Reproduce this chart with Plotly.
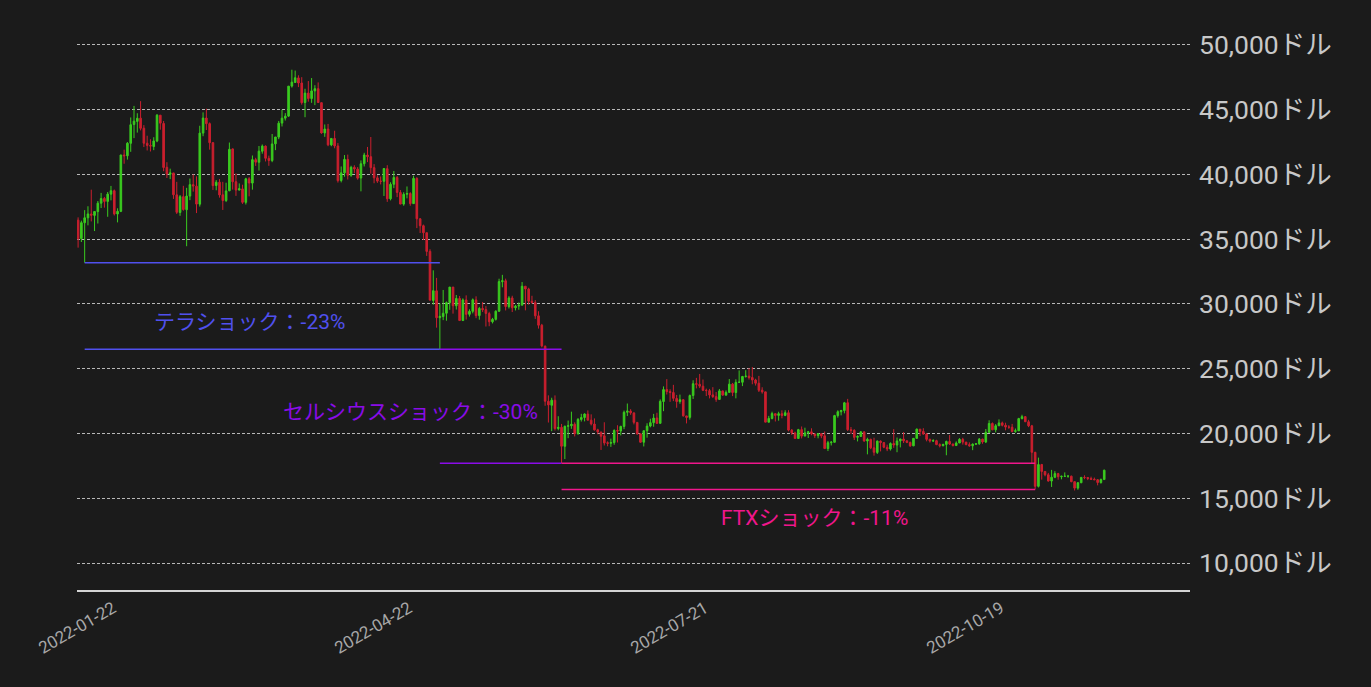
import pandas as pd
import plotly.graph_objects as go

# ---- data: BTC daily candles, 2022-01-22 .. 2022-11-30 ----
start_date = "2022-01-22"
end_date = "2022-11-30"

opens = [
    # Jan 22-31
    36471, 35048, 36276, 36654, 36950, 36841, 37128, 37780, 38151, 37920,
    # Feb
    38481, 38744, 36945, 37150, 41501, 41441, 42406, 43855, 44097, 44348,
    43571, 42412, 42236, 42158, 42586, 44578, 43937, 40553, 40022, 40119,
    38424, 37068, 38285, 37279, 38328, 39213, 39098, 37707,
    # Mar
    43194, 44357, 43925, 42458, 39148, 39404, 38429, 37988, 38743, 41974,
    39439, 38794, 38885, 37846, 39665, 39335, 41141, 40944, 41795, 42191,
    41246, 41074, 42364, 42886, 43964, 44349, 44505, 46822, 47100, 47456, 47063,
    # Apr
    45554, 46285, 45859, 46454, 46624, 45544, 43207, 43505, 42282, 42781,
    42201, 39533, 40123, 41160, 39939, 40552, 40417, 39722, 40828, 41501,
    41372, 40525, 39738, 39478, 39472, 40448, 38120, 39242, 39768, 38606,
    # May
    37713, 38473, 38529, 37748, 39695, 36573, 36042, 35502, 34060, 30273,
    31017, 28937, 29030, 29285, 30099, 31305, 29863, 30424, 28720, 30311,
    29199, 29433, 30310, 29102, 29654, 29564, 29261, 28623, 28812, 29442, 31723,
    # Jun
    31792, 29794, 30467, 29706, 29835, 29910, 31372, 31151, 30216, 30110,
    29084, 28361, 26737, 22486, 22177, 22568, 20387, 20473, 19011, 20553,
    20595, 20717, 19990, 21084, 21233, 21497, 21028, 20731, 20282, 20108,
    # Jul
    19820, 19279, 19245, 19298, 20225, 20194, 20547, 21638, 21729, 21592,
    20857, 19971, 19326, 20212, 20573, 20835, 21196, 20782, 22468, 23393,
    23235, 23163, 22706, 22466, 22607, 21358, 21244, 22934, 23845, 23796, 23652,
    # Aug
    23337, 23309, 22981, 22846, 22630, 23289, 22962, 23174, 23811, 23162,
    23949, 23957, 24402, 24430, 24318, 24127, 23881, 23342, 23213, 20872,
    21160, 21531, 21398, 21526, 21395, 21600, 20260, 20041, 19615, 20297, 19798,
    # Sep
    20050, 20126, 19969, 19833, 19989, 19818, 18837, 19289, 19322, 21376,
    21679, 21769, 22371, 20295, 20242, 19704, 19770, 20127, 19419, 19545,
    18891, 18534, 19412, 19296, 18936, 18803, 19221, 19105, 19427, 19573,
    # Oct
    19431, 19312, 19044, 19623, 20335, 20162, 19957, 19546, 19417, 19446,
    19140, 19053, 19156, 19383, 19186, 19068, 19268, 19549, 19335, 19138,
    19053, 19172, 19207, 19567, 19344, 20092, 20773, 20288, 20595, 20818, 20633,
    # Nov
    20494, 20482, 20162, 20208, 21145, 21301, 20906, 20590, 18543, 15922,
    17602, 17069, 16813, 16331, 16618, 16901, 16661, 16692, 16699, 16700,
    16280, 15782, 16196, 16611, 16603, 16521, 16463, 16428, 16213, 16442,
]

highs = [
    36688, 36433, 37247, 37545, 38825, 37148, 37952, 38576, 38266, 38647,
    39116, 38834, 37388, 41527, 41914, 42500, 44401, 45293, 44727, 45661,
    43810, 42992, 42721, 42876, 44667, 44578, 44132, 40946, 40447, 40119,
    39430, 38413, 39123, 38968, 39683, 40005, 39854, 43761,
    44793, 45077, 44021, 42479, 39566, 39640, 39430, 39363, 42465, 42005,
    40081, 39308, 39209, 39742, 39794, 41465, 41287, 42195, 42316, 42241,
    41454, 43124, 42893, 44131, 44999, 44735, 46827, 48087, 48022, 47655, 47512,
    46617, 47213, 47444, 46891, 47106, 45544, 43860, 43903, 42786, 43376,
    42424, 40617, 41499, 41532, 40671, 40709, 40570, 41082, 41672, 42126,
    42893, 40799, 39935, 39845, 40491, 40713, 39397, 40269, 39887, 38795,
    38627, 39074, 38629, 39902, 39789, 36624, 36129, 35502, 34222, 32596,
    32013, 30033, 31083, 30189, 31308, 31305, 30694, 30618, 30431, 30664,
    29588, 30425, 30590, 29774, 30157, 29834, 29397, 28926, 29509, 31949, 32249,
    31957, 30604, 30634, 29930, 30117, 31693, 31373, 31253, 30633, 30300,
    29438, 28462, 26795, 22944, 22761, 22940, 21333, 20739, 20611, 20998,
    21684, 20862, 21192, 21520, 21558, 21783, 21479, 21164, 20364, 20141,
    20865, 19393, 19602, 20324, 20635, 20595, 21771, 22314, 21877, 21592,
    20857, 20000, 20223, 20789, 21139, 21514, 21600, 22633, 23635, 24196,
    23412, 23756, 22977, 23001, 22651, 21361, 23006, 24108, 24294, 24598, 24167,
    23464, 23442, 23578, 23199, 23430, 23302, 23326, 24203, 23900, 24183,
    24870, 24445, 24888, 25047, 25135, 24226, 24447, 23569, 23213, 21359,
    21683, 21531, 21680, 21790, 21795, 21800, 20341, 20138, 20357, 20542, 20447,
    20198, 20401, 19970, 20004, 20016, 20156, 19427, 19417, 21439, 21791,
    21827, 22439, 22673, 20502, 20330, 19861, 20163, 20130, 19674, 19603,
    19674, 19456, 19464, 19310, 19135, 19315, 20338, 19688, 19589, 20109,
    19472, 19370, 19653, 20380, 20343, 20408, 20041, 19601, 19558, 19515,
    19241, 19207, 19453, 19889, 19212, 19393, 19635, 19666, 19348, 19315,
    19237, 19248, 19646, 19589, 20348, 21020, 20854, 20724, 21086, 20917, 20834,
    20647, 20742, 20382, 21209, 21446, 21346, 21053, 20664, 18590, 18137,
    17651, 17069, 16954, 17190, 17091, 16960, 16746, 16995, 16797, 16749,
    16290, 16253, 16638, 16771, 16603, 16667, 16595, 16484, 16522, 17200,
]

lows = [
    34349, 34785, 33184, 36069, 36375, 35630, 36211, 37406, 37437, 36733,
    38000, 36832, 36300, 37093, 40826, 41150, 41748, 42807, 43232, 43402,
    42114, 41852, 41774, 41876, 42491, 43456, 40249, 39729, 39640, 38112,
    36950, 36809, 37201, 34459, 38015, 38676, 37018, 37520,
    42952, 43432, 41914, 38805, 38777, 38211, 37260, 37867, 38706, 38832,
    38347, 38772, 37728, 37681, 38310, 38828, 40662, 40302, 41602, 41004,
    40668, 40948, 41877, 42726, 43706, 44166, 44437, 46707, 47100, 46746, 45390,
    44421, 45620, 45530, 45353, 45544, 43147, 42906, 42183, 42183, 42021,
    39373, 39388, 39823, 39609, 39817, 40099, 39597, 38696, 40618, 40953,
    40063, 39319, 39352, 39233, 38339, 37884, 37997, 38941, 38248, 37697,
    37585, 38156, 37585, 37732, 35856, 35482, 34940, 33713, 30296, 29944,
    28170, 26500, 28751, 28706, 29550, 29251, 29570, 28721, 28708, 28793,
    29027, 29275, 28901, 28786, 29384, 28261, 28282, 28498, 28721, 29384, 31286,
    29501, 29651, 29375, 29500, 29555, 29895, 29508, 29944, 30020, 28850,
    28099, 26651, 22141, 20846, 20178, 20232, 20246, 17708, 18025, 19637,
    20360, 19771, 19898, 20921, 20935, 21016, 20620, 20228, 19937, 18729,
    19073, 19012, 18966, 19127, 19305, 19852, 20333, 21347, 21441, 20703,
    19903, 19285, 18999, 19676, 20477, 20522, 20778, 20782, 21722, 23009,
    22446, 22500, 21987, 22297, 21307, 20778, 21070, 22664, 23481, 23505, 23273,
    22890, 22709, 22747, 22445, 22605, 22934, 22908, 23165, 22884, 22713,
    23938, 23659, 24312, 24165, 23799, 23702, 23201, 23078, 20868, 20856,
    21088, 20926, 20988, 21169, 21339, 20165, 19890, 19600, 19600, 19617, 19798,
    19653, 19861, 19653, 19625, 19637, 18800, 18644, 19075, 19311, 21221,
    21397, 21555, 20196, 19961, 19497, 19387, 19757, 19364, 18390, 18791,
    18290, 18415, 18617, 18861, 18638, 18682, 18891, 18553, 18925, 19265,
    19254, 18970, 19025, 19603, 19802, 19900, 19395, 19299, 19349, 19102,
    18925, 19015, 18319, 19115, 18999, 19068, 19262, 19144, 19096, 18971,
    18712, 19132, 19124, 19206, 19261, 20076, 20255, 20086, 20580, 20547, 20245,
    20359, 20087, 20060, 20188, 21097, 20887, 20489, 17659, 15682, 15833,
    16439, 16692, 16285, 15872, 16549, 16430, 16460, 16645, 16582, 16235,
    15599, 15656, 16169, 16470, 16400, 16461, 16427, 15995, 16123, 16436,
]

closes = [
    35030, 36276, 36654, 36954, 36852, 37138, 37784, 38138, 37917, 38483,
    38743, 36952, 37154, 41501, 41441, 42412, 43841, 44118, 44338, 43565,
    42408, 42244, 42197, 42586, 44575, 43961, 40538, 40031, 40122, 38431,
    37075, 38286, 37296, 38332, 39214, 39105, 37710, 43193,
    44354, 43925, 42452, 39137, 39400, 38420, 37989, 38730, 41941, 39439,
    38794, 38904, 37849, 39666, 39338, 41143, 40951, 41801, 42190, 41247,
    41077, 42358, 42892, 43960, 44348, 44500, 46820, 47128, 47465, 47062, 45538,
    46281, 45868, 46453, 46622, 45555, 43206, 43503, 42287, 42782, 42207,
    39521, 40127, 41166, 39935, 40553, 40424, 39716, 40827, 41503, 41374,
    40527, 39741, 39486, 39470, 40458, 38117, 39241, 39773, 38610, 37714,
    38469, 38529, 37750, 39698, 36575, 36040, 35501, 34059, 30296, 31022,
    28936, 29047, 29283, 30101, 31305, 29862, 30425, 28720, 30314, 29200,
    29432, 30323, 29098, 29655, 29562, 29268, 28627, 28814, 29445, 31726, 31792,
    29799, 30467, 29704, 29832, 29906, 31370, 31155, 30214, 30112, 29083,
    28360, 26762, 22487, 22206, 22572, 20381, 20471, 19017, 20553, 20599,
    20710, 19988, 21085, 21231, 21502, 21028, 20736, 20281, 20123, 19785,
    19269, 19243, 19297, 20231, 20190, 20548, 21637, 21731, 21592, 20860,
    19970, 19323, 20213, 20569, 20836, 21190, 20780, 22485, 23389, 23231,
    23164, 22714, 22465, 22609, 21361, 21239, 22930, 23843, 23804, 23656, 23336,
    23314, 22978, 22846, 22630, 23289, 22961, 23175, 23809, 23164, 23947,
    23957, 24402, 24424, 24319, 24136, 23883, 23336, 23213, 20877, 21166,
    21534, 21398, 21528, 21395, 21600, 20260, 20041, 19616, 20297, 19797, 20050,
    20127, 19969, 19832, 19986, 19812, 18837, 19290, 19329, 21381, 21680,
    21769, 22370, 20296, 20241, 19702, 19772, 20127, 19420, 19544, 18890,
    18547, 19413, 19297, 18937, 18802, 19222, 19110, 19426, 19574, 19431,
    19312, 19044, 19623, 20336, 20160, 19955, 19546, 19417, 19446, 19141,
    19051, 19157, 19382, 19185, 19067, 19268, 19550, 19334, 19139, 19053,
    19172, 19208, 19567, 19345, 20095, 20771, 20285, 20595, 20818, 20635, 20495,
    20485, 20159, 20209, 21148, 21300, 20905, 20591, 18547, 15922, 17602,
    17070, 16812, 16330, 16619, 16901, 16662, 16693, 16700, 16700, 16280,
    15782, 16196, 16610, 16604, 16522, 16458, 16428, 16213, 16442, 17168,
]

dates = pd.date_range(start_date, end_date, freq="D")
assert len(dates) == len(opens) == len(highs) == len(lows) == len(closes)

# shock ranges (start date, end date, upper level, lower level)
terra_dates = ["2022-01-24", "2022-05-12"]
terra_levels = [33184, 26500]
celsius_dates = ["2022-05-12", "2022-06-18"]
celsius_levels = [26500, 17708]
ftx_dates = ["2022-06-18", "2022-11-09"]
ftx_levels = [17708, 15682]

labels = ["テラショック：-23%", "セルシウスショック：-30%", "FTXショック：-11%"]
label_x = ["2022-03-15", "2022-05-03", "2022-09-03"]
label_y = [28600, 21650, 13480]

y_ticks = [10000, 15000, 20000, 25000, 30000, 35000, 40000, 45000, 50000]
y_tick_text = [f"{v:,}ドル" for v in y_ticks]
x_ticks = ["2022-01-22", "2022-04-22", "2022-07-21", "2022-10-19"]

# ---- styling ----
BG = "#1b1b1b"
GREEN = "#3acb1f"
RED = "#cb1f2e"
BLUE = "#5050ee"
PURPLE = "#8a0ce8"
PINK = "#f0168c"
FONT = "Roboto, 'Noto Sans CJK JP', sans-serif"

fig = go.Figure()
fig.add_trace(go.Candlestick(
    x=dates, open=opens, high=highs, low=lows, close=closes,
    increasing=dict(line=dict(color=GREEN, width=1), fillcolor=GREEN),
    decreasing=dict(line=dict(color=RED, width=1), fillcolor=RED),
    whiskerwidth=0, showlegend=False, hoverinfo="skip",
))

for seg_dates, levels, color in [
    (terra_dates, terra_levels, BLUE),
    (celsius_dates, celsius_levels, PURPLE),
    (ftx_dates, ftx_levels, PINK),
]:
    for lvl in levels:
        fig.add_trace(go.Scatter(
            x=seg_dates, y=[lvl, lvl], mode="lines",
            line=dict(color=color, width=1.5), showlegend=False, hoverinfo="skip",
        ))

for txt, xx, yy, color in zip(labels, label_x, label_y, [BLUE, PURPLE, PINK]):
    fig.add_annotation(x=xx, y=yy, text=txt, showarrow=False,
                       font=dict(size=21, color=color, family=FONT),
                       xanchor="center", yanchor="middle")

fig.update_layout(
    width=1371, height=687,
    paper_bgcolor=BG, plot_bgcolor=BG,
    margin=dict(l=77, r=181, t=32, b=97),
    font=dict(family=FONT, color="#c8c8c8"),
    showlegend=False,
    xaxis=dict(
        type="date",
        range=["2022-01-21 16:00", "2022-12-26 02:00"],
        rangeslider=dict(visible=False),
        tickvals=x_ticks, ticktext=x_ticks,
        tickangle=-30,
        tickfont=dict(size=17, color="#a8a8a8"),
        ticklabelshift=35,
        showgrid=False, zeroline=False,
        showline=True, linecolor="#d4d4d4", linewidth=2,
        ticks="",
    ),
    yaxis=dict(
        side="right",
        range=[7915, 51000],
        tickvals=y_ticks, ticktext=y_tick_text,
        tickfont=dict(size=26.5, color="#c8c8c8"),
        showgrid=True, gridcolor="#b8b8b8", gridwidth=1, griddash="3px,2px",
        zeroline=False, showline=False, ticks="",
        ticklabelstandoff=8,
    ),
)

fig.write_html(
    "out.html",
    config={"displayModeBar": False},
    post_script="document.body.style.margin='0';document.body.style.background='#1b1b1b';",
)
